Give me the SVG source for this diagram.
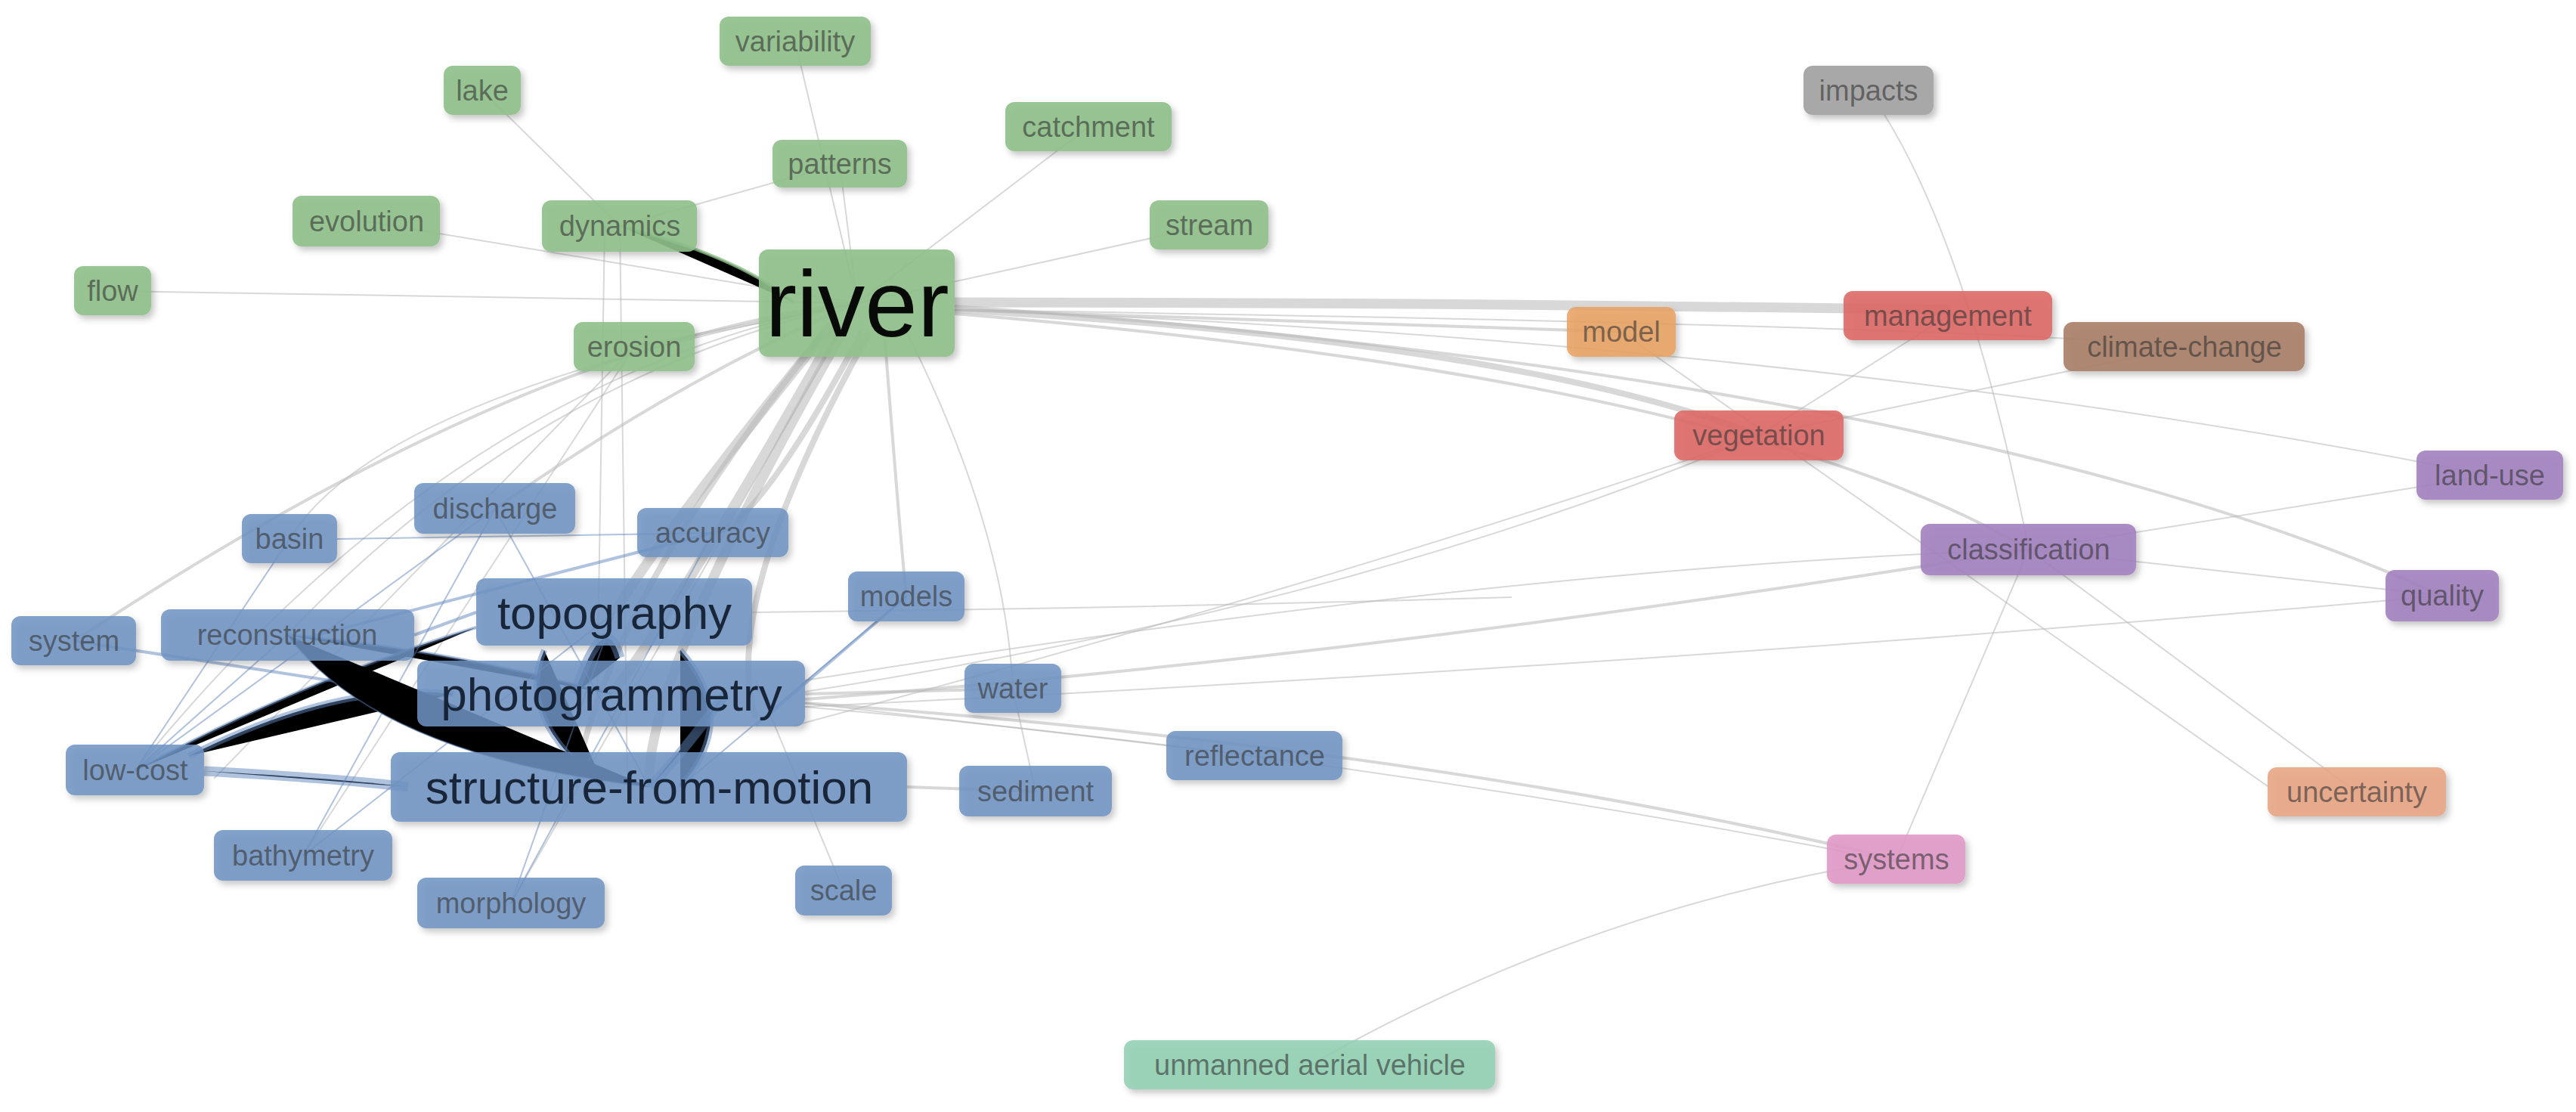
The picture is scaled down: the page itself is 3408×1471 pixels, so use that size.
<svg xmlns="http://www.w3.org/2000/svg" width="3408" height="1471" viewBox="0 0 3408 1471">
<defs>
<filter id="sh" x="-20%" y="-30%" width="140%" height="170%"><feDropShadow dx="4" dy="5" stdDeviation="4" flood-color="#000" flood-opacity="0.25"/></filter>
</defs>
<style>
.e{fill:none;stroke:#b8b8b8;stroke-opacity:.55}
.t1{stroke-width:2}.t2{stroke-width:4}.t3{stroke-width:8}.t4{stroke-width:13}
.b{stroke:#5f86bd;stroke-opacity:.5}
.g{stroke:#8fc08a;stroke-opacity:.8}
.n rect{rx:12;filter:url(#sh)}
.gr rect{fill:#8fc08a;fill-opacity:.9}
.bl rect{fill:#6f93c2;fill-opacity:.85}
.n text{font-family:"Liberation Sans",Arial,sans-serif;text-anchor:middle;dominant-baseline:central;font-size:38px;fill:#333;fill-opacity:.6}
.big text{font-size:62px;fill:#0e1a2a;fill-opacity:.9}
</style>
<rect width="3408" height="1471" fill="#fff"/>
<g id="edges">
<path class="e t1" d="M1134 401 L1052 55"/>
<path class="e t1" d="M638 120 L820 299"/>
<path class="e t1" d="M1134 401 L1440 168"/>
<path class="e t1" d="M1111 217 L820 299"/>
<path class="e t1" d="M1134 401 L1111 217"/>
<path class="e t1" d="M485 293 L1134 401"/>
<path class="g t2" d="M820 299 Q980 340 1050 400"/>
<path class="e t1" d="M1134 401 L1600 298"/>
<path class="e t1" d="M149 385 L1134 401"/>
<path class="e t2" d="M839 459 L1134 401"/>
<path class="e t1" d="M820 299 L830 1041"/>
<path class="e t1" d="M800 299 L790 918"/>
<path class="e t2" d="M1134 401 Q700 450 98 848"/>
<path class="e t1" d="M1134 401 Q600 500 179 1019"/>
<path class="e t1" d="M1134 401 Q500 520 383 713"/>
<path class="e t1" d="M1134 401 Q700 500 380 840"/>
<path class="e t2" d="M1134 401 Q900 500 655 673"/>
<path class="e t1" d="M839 459 L401 1132"/>
<path class="e t1" d="M839 459 L283 1030"/>
<path class="e t4" d="M1100 430 Q880 700 813 810"/>
<path class="e t4" d="M1110 430 Q900 800 809 918"/>
<path class="e t4" d="M1120 430 Q850 900 859 1041"/>
<path class="e t3" d="M1140 440 Q1000 700 943 705"/>
<path class="e t3" d="M1150 440 Q950 800 1000 950"/>
<path class="e t3" d="M1090 440 Q800 800 760 1041"/>
<path class="e t2" d="M1170 440 Q1190 700 1199 789"/>
<path class="e t1" d="M1200 440 Q1330 700 1340 911"/>
<path class="e t1" d="M1134 401 L676 1195"/>
<path class="e t4" d="M1263 400 Q1900 400 2580 410"/>
<path class="e t2" d="M1263 410 L2145 439"/>
<path class="e t3" d="M1263 410 Q2000 450 2327 576"/>
<path class="e t2" d="M1263 405 Q2600 500 3231 788"/>
<path class="e t2" d="M1263 415 Q2300 500 2684 727"/>
<path class="e t1" d="M1263 410 Q2400 450 3294 629"/>
<path class="e t1" d="M1263 410 Q2600 430 2890 459"/>
<path class="e t1" d="M2472 120 Q2600 300 2684 727"/>
<path class="e t1" d="M2577 418 L2327 576"/>
<path class="e t1" d="M2890 459 L2327 576"/>
<path class="e t1" d="M2684 727 L3294 629"/>
<path class="e t1" d="M2684 727 L3231 788"/>
<path class="e t1" d="M2684 727 L3118 1048"/>
<path class="e t1" d="M2684 727 L2509 1137"/>
<path class="e t1" d="M2145 439 L3000 1040"/>
<path class="e t2" d="M1065 925 Q1800 870 2684 727"/>
<path class="e t1" d="M1065 915 Q1800 800 2327 576"/>
<path class="e t1" d="M1050 960 Q1800 760 2327 576"/>
<path class="e t1" d="M1065 935 Q2200 880 3231 788"/>
<path class="e t1" d="M1065 900 Q2000 750 2684 727"/>
<path class="e t2" d="M1065 930 Q1900 990 2509 1137"/>
<path class="e t1" d="M1065 935 Q1800 1000 2509 1140"/>
<path class="e t1" d="M1733 1409 Q2100 1200 2509 1137"/>
<path class="e t1" d="M995 810 Q1500 805 2000 790"/>
<path class="e t2" d="M1065 918 L1340 911"/>
<path class="e t1" d="M1065 930 L1660 1000"/>
<path class="e t2" d="M1200 1041 L1370 1047"/>
<path class="e t1" d="M1340 911 L1370 1047"/>
<path class="e t1" d="M1116 1178 L1000 900"/>
<path class="b t2" d="M548 840 L630 810"/>
<path class="b t2" d="M380 840 Q600 860 809 918"/>
<path class="b t2" d="M179 1019 Q400 900 630 830"/>
<path class="b t4" d="M270 1020 Q450 1030 540 1041"/>
<path class="b t3" d="M250 1000 Q450 900 600 918"/>
<path class="b t3" d="M720 860 Q680 950 800 1041"/>
<path class="b t3" d="M900 860 Q980 950 900 1041"/>
<path class="b t4" d="M760 918 Q800 800 820 870"/>
<path class="b t4" d="M960 918 Q900 1000 860 1041"/>
<path class="b t2" d="M98 848 L552 918"/>
<path class="b t1" d="M179 1019 L655 673"/>
<path class="b t1" d="M179 1019 L383 713"/>
<path class="b t1" d="M179 1019 L380 840"/>
<path class="b t1" d="M401 1132 L813 810"/>
<path class="b t1" d="M401 1132 L655 673"/>
<path class="b t1" d="M676 1195 L813 810"/>
<path class="b t1" d="M676 1195 L943 705"/>
<path class="b t1" d="M655 673 L859 1041"/>
<path class="b t1" d="M446 713 L943 705"/>
<path class="b t1" d="M380 840 Q500 1000 859 1041"/>
<path class="b t2" d="M1199 789 L1000 960"/>
<path class="b t1" d="M1199 789 L900 1041"/>
<path class="b t2" d="M943 705 L380 850"/>
</g>
<g id="n-variability" class="n gr"><rect x="952" y="22" width="200" height="65"/><text x="1052" y="55">variability</text></g>
<g id="n-lake" class="n gr"><rect x="587" y="87" width="102" height="65"/><text x="638" y="120">lake</text></g>
<g id="n-catchment" class="n gr"><rect x="1330" y="135" width="220" height="65"/><text x="1440" y="168">catchment</text></g>
<g id="n-patterns" class="n gr"><rect x="1022" y="185" width="178" height="63"/><text x="1111" y="217">patterns</text></g>
<g id="n-evolution" class="n gr"><rect x="387" y="259" width="195" height="67"/><text x="485" y="293">evolution</text></g>
<g id="n-dynamics" class="n gr"><rect x="717" y="265" width="205" height="68"/><text x="820" y="299">dynamics</text></g>
<g id="n-stream" class="n gr"><rect x="1521" y="265" width="157" height="65"/><text x="1600" y="298">stream</text></g>
<g id="n-flow" class="n gr"><rect x="98" y="352" width="102" height="65"/><text x="149" y="385">flow</text></g>
<g id="n-erosion" class="n gr"><rect x="759" y="426" width="160" height="65"/><text x="839" y="459">erosion</text></g>
<g id="n-river" class="n gr big"><rect x="1004" y="330" width="259" height="142"/><text x="1134" y="401" style="font-size:125px;fill:#000;fill-opacity:.95">river</text></g>
<g id="n-impacts" class="n"><rect x="2386" y="87" width="172" height="65" style="fill:#a8a8a8"/><text x="2472" y="120">impacts</text></g>
<g id="n-model" class="n"><rect x="2073" y="406" width="144" height="66" style="fill:#e9a15f;fill-opacity:.85"/><text x="2145" y="439">model</text></g>
<g id="n-management" class="n"><rect x="2439" y="385" width="276" height="65" style="fill:#dd6a66;fill-opacity:.9"/><text x="2577" y="418">management</text></g>
<g id="n-climate-change" class="n"><rect x="2730" y="426" width="319" height="65" style="fill:#a98068;fill-opacity:.9"/><text x="2890" y="459">climate-change</text></g>
<g id="n-vegetation" class="n"><rect x="2215" y="543" width="224" height="66" style="fill:#dd6a66;fill-opacity:.9"/><text x="2327" y="576">vegetation</text></g>
<g id="n-land-use" class="n"><rect x="3197" y="596" width="194" height="65" style="fill:#a382c0;fill-opacity:.9"/><text x="3294" y="629">land-use</text></g>
<g id="n-classification" class="n"><rect x="2541" y="693" width="285" height="68" style="fill:#a382c0;fill-opacity:.9"/><text x="2684" y="727">classification</text></g>
<g id="n-quality" class="n"><rect x="3156" y="754" width="150" height="68" style="fill:#a382c0;fill-opacity:.9"/><text x="3231" y="788">quality</text></g>
<g id="n-uncertainty" class="n"><rect x="3000" y="1015" width="236" height="65" style="fill:#e8a585;fill-opacity:.9"/><text x="3118" y="1048">uncertainty</text></g>
<g id="n-systems" class="n"><rect x="2417" y="1104" width="183" height="65" style="fill:#e09ac8;fill-opacity:.9"/><text x="2509" y="1137">systems</text></g>
<g id="n-uav" class="n"><rect x="1487" y="1376" width="491" height="65" style="fill:#8fcfb2;fill-opacity:.85"/><text x="1733" y="1409">unmanned aerial vehicle</text></g>
<g id="n-basin" class="n bl"><rect x="320" y="680" width="126" height="65"/><text x="383" y="713">basin</text></g>
<g id="n-discharge" class="n bl"><rect x="548" y="639" width="213" height="67"/><text x="655" y="673">discharge</text></g>
<g id="n-accuracy" class="n bl"><rect x="843" y="672" width="200" height="65"/><text x="943" y="705">accuracy</text></g>
<g id="n-system" class="n bl"><rect x="15" y="815" width="165" height="65"/><text x="98" y="848">system</text></g>
<g id="n-reconstruction" class="n bl"><rect x="213" y="806" width="335" height="68"/><text x="380" y="840">reconstruction</text></g>
<g id="n-topography" class="n bl big"><rect x="630" y="765" width="365" height="89"/><text x="813" y="810">topography</text></g>
<g id="n-models" class="n bl"><rect x="1122" y="756" width="154" height="66"/><text x="1199" y="789">models</text></g>
<g id="n-photogrammetry" class="n bl big"><rect x="552" y="874" width="513" height="87"/><text x="809" y="918">photogrammetry</text></g>
<g id="n-water" class="n bl"><rect x="1276" y="878" width="128" height="65"/><text x="1340" y="911">water</text></g>
<g id="n-low-cost" class="n bl"><rect x="87" y="985" width="183" height="67"/><text x="179" y="1019">low-cost</text></g>
<g id="n-sfm" class="n bl big"><rect x="517" y="995" width="683" height="92"/><text x="859" y="1041">structure-from-motion</text></g>
<g id="n-sediment" class="n bl"><rect x="1269" y="1013" width="202" height="67"/><text x="1370" y="1047">sediment</text></g>
<g id="n-reflectance" class="n bl"><rect x="1543" y="967" width="233" height="65"/><text x="1660" y="1000">reflectance</text></g>
<g id="n-bathymetry" class="n bl"><rect x="283" y="1098" width="236" height="67"/><text x="401" y="1132">bathymetry</text></g>
<g id="n-morphology" class="n bl"><rect x="552" y="1161" width="248" height="67"/><text x="676" y="1195">morphology</text></g>
<g id="n-scale" class="n bl"><rect x="1052" y="1145" width="128" height="66"/><text x="1116" y="1178">scale</text></g>
</svg>
